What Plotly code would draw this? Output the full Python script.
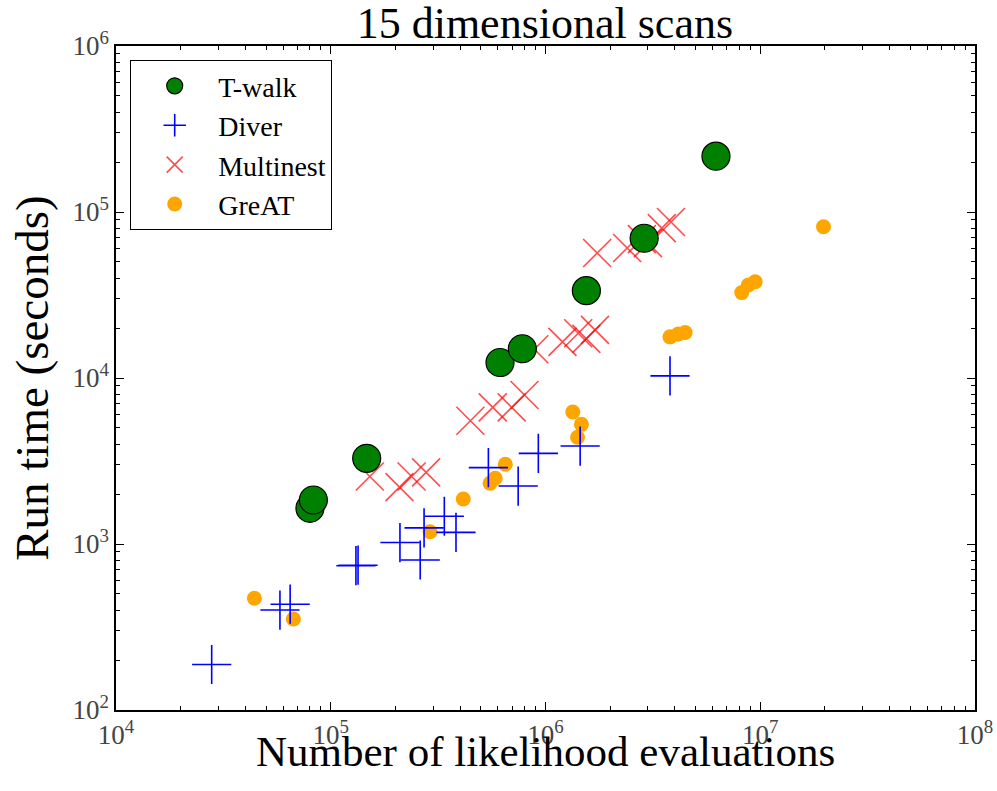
import plotly.graph_objects as go

# ---- data ----
twalk_x = [8.0e4, 8.3e4, 1.47e5, 6.14e5, 7.8e5, 1.55e6, 2.88e6, 6.22e6]
twalk_y = [1641, 1841, 3281, 1.24e4, 1.5e4, 3.36e4, 6.95e4, 2.17e5]

diver_x = [2.79e4, 5.8e4, 6.47e4, 1.31e5, 1.34e5, 2.1e5, 2.61e5, 2.72e5,
           3.38e5, 3.83e5, 5.42e5, 7.46e5, 9.26e5, 1.45e6, 3.8e6]
diver_y = [188, 400, 434, 740, 745, 1020, 801, 1250,
           1470, 1175, 2884, 2234, 3516, 3890, 1.03e4]

multi_x = [1.52e5, 2.09e5, 2.38e5, 2.78e5,
           4.47e5, 5.68e5, 6.96e5, 7.98e5,
           8.87e5, 1.2e6, 1.42e6, 1.55e6, 1.7e6,
           1.74e6, 2.4e6, 2.81e6, 3.0e6, 3.48e6, 3.84e6]
multi_y = [2550, 2200, 2550, 2700,
           5530, 6650, 6650, 7900,
           1.49e4, 1.65e4, 1.86e4, 1.72e4, 1.95e4,
           5.66e4, 6.07e4, 6.87e4, 6.5e4, 8.0e4, 8.7e4]

great_x = [4.41e4, 6.7e4, 2.9e5, 4.14e5, 5.52e5, 5.83e5, 6.5e5,
           1.34e6, 1.41e6, 1.47e6, 3.8e6, 4.15e6, 4.47e6,
           8.2e6, 8.8e6, 9.47e6, 1.97e7]
great_y = [471, 353, 1186, 1867, 2323, 2490, 3020,
           6240, 4393, 5256, 1.77e4, 1.84e4, 1.88e4,
           3.27e4, 3.63e4, 3.8e4, 8.15e4]

x_decades = [4, 5, 6, 7, 8]
y_decades = [2, 3, 4, 5, 6]

title_text = "15 dimensional scans"
x_label = "Number of likelihood evaluations"
y_label = "Run time (seconds)"

FONT = "Liberation Serif"

fig = go.Figure()
fig.add_trace(go.Scatter(
    x=great_x, y=great_y, mode="markers", name="GreAT", legendgroup="d", legendrank=4,
    marker=dict(symbol="circle", size=15, color="#FFA500", line=dict(width=0))))
fig.add_trace(go.Scatter(
    x=diver_x, y=diver_y, mode="markers", name="Diver", legendgroup="b", legendrank=2,
    marker=dict(symbol="cross-thin-open", size=28, color="#0000FF",
                line=dict(width=1.6, color="#0000FF"))))
fig.add_trace(go.Scatter(
    x=multi_x, y=multi_y, mode="markers", name="Multinest", legendgroup="c", legendrank=3,
    marker=dict(symbol="x-thin-open", size=28, color="rgba(255,0,0,0.7)",
                line=dict(width=1.6, color="rgba(255,0,0,0.7)"))))
fig.add_trace(go.Scatter(
    x=twalk_x, y=twalk_y, mode="markers", name="T-walk", legendgroup="a", legendrank=1,
    marker=dict(symbol="circle", size=28, color="#008000",
                line=dict(width=1.2, color="black"))))

def minor_vals(decs):
    vals = []
    for d in decs[:-1]:
        for m in range(2, 10):
            vals.append(m * 10 ** d)
    return vals

def axis(decs):
    return dict(
        type="log",
        range=[decs[0], decs[-1]],
        tickmode="array",
        tickvals=[10 ** d for d in decs],
        ticktext=["10<sup>%d</sup>" % d for d in decs],
        ticks="inside", ticklen=8, tickwidth=1, tickcolor="black",
        minor=dict(tickmode="array", tickvals=minor_vals(decs), ticks="inside",
                   ticklen=4, tickwidth=1, tickcolor="black", showgrid=False),
        showline=True, linecolor="black", linewidth=1.5, mirror="ticks",
        showgrid=False, zeroline=False, automargin=False,
        ticklabeloverflow="allow",
        tickfont=dict(family=FONT, size=27, color="#444"),
    )

fig.update_layout(
    width=997, height=791,
    margin=dict(l=116, r=22, t=46, b=81),
    paper_bgcolor="white", plot_bgcolor="white",
    title=dict(text=title_text, x=0.5465, xanchor="center",
               y=0.972, yanchor="middle",
               font=dict(family=FONT, size=44, color="black")),
    xaxis=axis(x_decades), yaxis=axis(y_decades),
    showlegend=True,
    legend=dict(x=0.0163, y=0.979, xanchor="left", yanchor="top",
                bordercolor="black", borderwidth=1.2, bgcolor="white",
                font=dict(family=FONT, size=28, color="black"),
                traceorder="grouped", tracegroupgap=0, itemwidth=77,
                entrywidth=137, entrywidthmode="pixels"),
    annotations=[
        dict(text=x_label, xref="paper", yref="paper", x=0.5, y=-0.062,
             xanchor="center", yanchor="middle", showarrow=False,
             font=dict(family=FONT, size=43, color="black")),
        dict(text=y_label, xref="paper", yref="paper", x=-0.098, y=0.5,
             xanchor="center", yanchor="middle", showarrow=False, textangle=-90,
             font=dict(family=FONT, size=47, color="black")),
    ],
)

fig.write_html("out.html")
